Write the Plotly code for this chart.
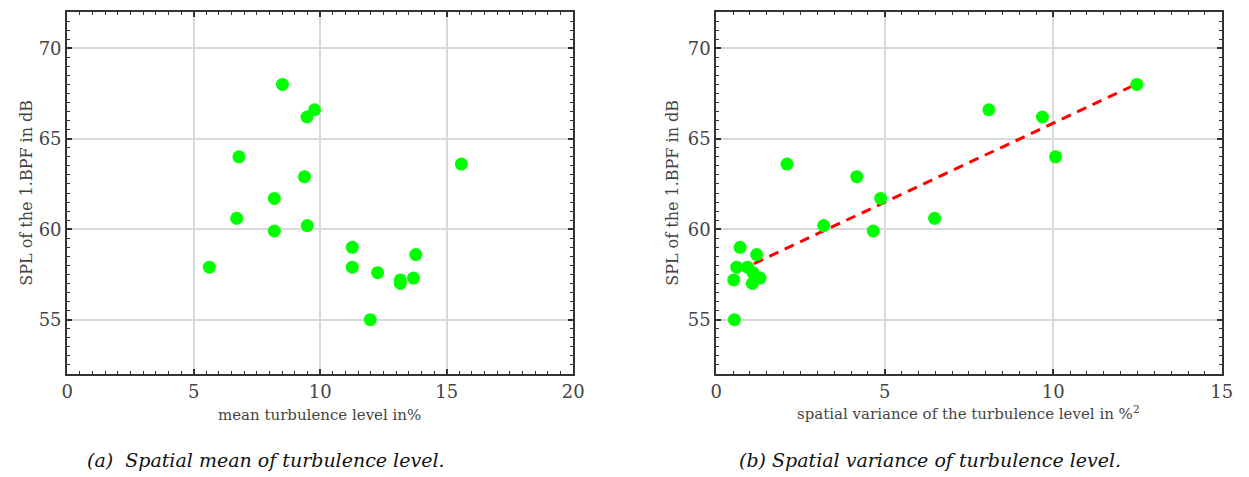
import plotly.graph_objects as go

# SPL of the 1st BPF (dB) for each configuration
spl = [57.9, 60.6, 64.0, 61.7, 59.9, 68.0, 66.2, 66.6, 62.9, 60.2,
       63.6, 59.0, 57.9, 57.6, 55.0, 57.2, 57.0, 57.3, 58.6]
# spatial mean turbulence level (%)
mean_tu = [5.62, 6.70, 6.79, 8.19, 8.19, 8.51, 9.48, 9.78, 9.38, 9.49,
           15.58, 11.27, 11.27, 12.27, 11.98, 13.17, 13.17, 13.69, 13.78]
# spatial variance of turbulence level (%^2)
var_tu = [0.61, 6.48, 10.07, 4.88, 4.66, 12.48, 9.68, 8.09, 4.17, 3.19,
          2.10, 0.71, 0.93, 1.09, 0.54, 0.52, 1.07, 1.30, 1.20]
# linear trend
trend_x = [1.12, 12.45]
trend_y = [58.1, 68.0]

W, H = 1249, 477
FONT = "DejaVu Serif"
GREEN = "#00ff00"

fig = go.Figure()
fig.add_trace(go.Scatter(x=mean_tu, y=spl, mode="markers", xaxis="x", yaxis="y",
                         marker=dict(size=13, color=GREEN, line=dict(width=0)),
                         showlegend=False))
fig.add_trace(go.Scatter(x=trend_x, y=trend_y, mode="lines", xaxis="x2", yaxis="y2",
                         line=dict(color="#ff0000", width=3, dash="10px,7px"),
                         showlegend=False))
fig.add_trace(go.Scatter(x=var_tu, y=spl, mode="markers", xaxis="x2", yaxis="y2",
                         marker=dict(size=13, color=GREEN, line=dict(width=0)),
                         showlegend=False))

def ax(rng, dtick, domain, anchor):
    return dict(
        range=rng, domain=domain, anchor=anchor, dtick=dtick, tick0=0,
        showline=True, linecolor="#333333", linewidth=2, mirror="allticks",
        ticks="inside", ticklen=5, tickwidth=1.5, tickcolor="#333333",
        showgrid=True, gridcolor="#d9d9d9", gridwidth=1.5, zeroline=False,
        minor=dict(dtick=0.5, ticks="inside", ticklen=3, tickwidth=1.2,
                   tickcolor="#333333", showgrid=False),
        tickfont=dict(family=FONT, size=18, color="#444444"),
    )

ydom = [1 - 374 / H, 1 - 12 / H]
fig.update_layout(
    width=W, height=H, margin=dict(l=0, r=0, t=0, b=0),
    paper_bgcolor="white", plot_bgcolor="white",
    font=dict(family=FONT),
    xaxis=ax([0, 20], 5, [62 / W, 575 / W], "y"),
    yaxis=ax([52, 72], 5, ydom, "x"),
    xaxis2=ax([0, 15], 5, [720 / W, 1232.5 / W], "y2"),
    yaxis2=ax([52, 72], 5, ydom, "x2"),
)

def ann(text, x, y, size, angle=0, italic=False, color="#444444"):
    fig.add_annotation(text=text, x=x / W, y=1 - y / H, xref="paper", yref="paper",
                       showarrow=False, textangle=angle, xanchor="center", yanchor="middle",
                       font=dict(family=FONT, size=size, color=color,
                                 style="italic" if italic else "normal"))

ann("mean turbulence level in%", 318, 415, 15)
ann("spatial variance of the turbulence level in %<sup>2</sup>", 976, 413, 15)
ann("SPL of the 1.BPF in dB", 20, 193, 16, angle=-90)
ann("SPL of the 1.BPF in dB", 675, 193, 16, angle=-90)
ann("(a)\u00a0\u00a0Spatial mean of turbulence level.", 264, 460, 19, italic=True, color="#111111")
ann("(b) Spatial variance of turbulence level.", 937, 460, 19, italic=True, color="#111111")

fig.write_html("out.html")
